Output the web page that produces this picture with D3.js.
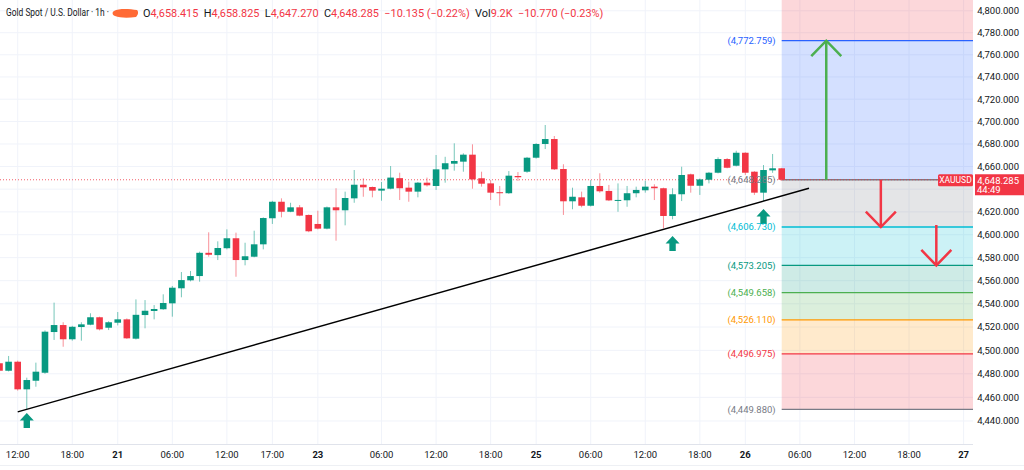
<!DOCTYPE html>
<html><head><meta charset="utf-8">
<script src="https://cdn.jsdelivr.net/npm/d3@7/dist/d3.min.js"></script>
<style>
html,body{margin:0;padding:0;background:#fff;}
svg{display:block;font-family:Roboto,"Noto Sans",sans-serif;}
</style></head>
<body>
<svg id="c" width="1024" height="470"></svg>
<script>
// ---------- data (1h candles, index 0 = 20th 12:00) ----------
const startIndex = -2;
const opens  = [4489.0,4482.6,4490.3,4466.8,4474.1,4480.9,4515.7,4521.7,4509.5,4520.0,4522.0,4528.4,4519.4,4523.7,4526.6,4510.0,4530.3,4533.8,4535.3,4540.4,4553.4,4560.3,4564.0,4584.2,4582.2,4588.2,4596.9,4577.9,4580.8,4591.6,4614.4,4628.9,4620.1,4624.0,4617.3,4609.4,4605.3,4624.0,4621.4,4631.9,4643.9,4641.9,4638.7,4640.4,4649.7,4641.3,4637.8,4645.7,4642.8,4657.5,4662.5,4664.3,4670.5,4649.6,4645.1,4637.3,4636.4,4651.6,4655.4,4667.8,4680.0,4684.4,4657.8,4629.3,4632.8,4625.4,4642.8,4638.4,4630.1,4630.2,4636.4,4639.0,4642.2,4640.8,4616.4,4635.5,4653.1,4643.0,4648.3,4654.5,4666.6,4660.7,4672.2,4655.4,4636.9,4656.6,4658.415];
const highs  = [4490.7,4495.2,4491.2,4476.7,4489.5,4517.1,4541.0,4524.1,4521.0,4524.1,4531.8,4528.9,4525.0,4532.9,4527.4,4543.8,4543.2,4538.9,4548.2,4555.4,4567.5,4568.4,4585.2,4602.1,4594.2,4604.7,4601.8,4593.0,4603.5,4615.2,4629.7,4631.9,4628.0,4626.0,4617.7,4621.0,4624.7,4640.8,4637.8,4656.9,4649.6,4642.3,4646.3,4660.4,4654.5,4646.6,4646.3,4650.2,4670.2,4668.6,4680.6,4671.7,4679.7,4655.4,4648.0,4642.8,4656.0,4655.1,4668.5,4680.7,4696.9,4687.1,4662.0,4641.3,4637.8,4648.0,4654.0,4643.7,4645.1,4642.8,4642.2,4647.4,4644.3,4641.3,4640.8,4659.8,4653.7,4649.4,4655.2,4668.1,4667.5,4674.0,4672.6,4655.9,4661.3,4671.1,4658.825];
const lows   = [4480.0,4482.0,4465.7,4449.9,4469.0,4480.0,4508.9,4503.1,4508.3,4508.3,4521.5,4517.1,4517.4,4521.4,4509.8,4509.3,4518.9,4526.6,4534.8,4528.9,4545.6,4559.4,4559.1,4580.8,4577.9,4587.2,4563.4,4573.3,4580.3,4587.2,4609.4,4615.2,4619.7,4616.2,4602.2,4604.7,4604.7,4594.8,4608.2,4628.0,4633.3,4632.8,4629.8,4639.8,4630.4,4628.9,4632.8,4642.3,4639.3,4645.7,4656.3,4655.4,4640.4,4642.2,4630.4,4625.4,4635.8,4647.2,4654.4,4667.0,4675.5,4656.9,4617.3,4622.3,4624.0,4624.7,4636.9,4629.5,4620.1,4624.5,4632.8,4636.9,4630.4,4605.6,4613.5,4629.5,4636.9,4634.9,4645.1,4653.9,4658.4,4660.1,4652.5,4634.9,4629.5,4654.4,4647.270];
const closes = [4482.6,4490.3,4466.8,4474.7,4481.8,4516.0,4521.7,4509.5,4520.2,4522.3,4528.4,4518.0,4524.1,4526.6,4510.3,4530.5,4534.0,4535.5,4540.7,4553.9,4560.5,4564.0,4584.2,4582.5,4588.4,4596.9,4577.9,4581.2,4591.6,4614.6,4628.9,4620.1,4624.0,4616.7,4603.0,4605.3,4624.0,4621.4,4632.2,4643.9,4641.6,4638.7,4640.4,4650.2,4640.8,4637.8,4645.7,4643.4,4657.5,4662.9,4664.9,4670.5,4648.6,4644.8,4636.9,4636.4,4651.9,4650.5,4667.8,4680.0,4684.4,4657.5,4629.3,4633.3,4625.4,4642.8,4638.1,4630.1,4630.5,4636.4,4639.3,4642.2,4640.8,4616.4,4635.5,4652.5,4643.0,4648.6,4654.5,4666.6,4658.9,4672.2,4654.5,4636.9,4656.9,4658.42,4648.285];

const xTickIndex = [0,6,11,17,23,28,33,40,46,52,57,63,69,75,80,86,92,98,104];
const xTickLabel = ["12:00","18:00","21","06:00","12:00","17:00","23","06:00","12:00","18:00","25","06:00","12:00","18:00","26","06:00","12:00","18:00","27"];
const xTickBold  = [false,false,true,false,false,false,true,false,false,false,true,false,false,false,true,false,false,false,true];
const yTicks = d3.range(4440, 4801, 20);

const fibPrices = [4772.759, 4648.285, 4606.730, 4573.205, 4549.658, 4526.110, 4496.975, 4449.880];
const fibColors = ["#2962ff","#787b86","#00bcd4","#089981","#4caf50","#ff9800","#f23645","#787b86"];
const fibStartIndex = 84;

const trendPts = [[1, 4449.9],[82, 4629.5]];   // touches two lows
const trendRange = [0, 87];
const markerArrows = [[1, 4446.7],[72, 4598.9],[82, 4622.5]]; // index, tip price
const bigArrows = [ // index, from price, to price, colour
  [88.9, 4648.285, 4772.759, "#4caf50"],
  [94.9, 4648.285, 4606.730, "#f23645"],
  [101.0, 4608.5, 4573.205, "#f23645"]
];
const headerExtra = "\u221210.770 (\u22120.23%)";
const headerVol = "9.2K";
const countdown = "44:49";

// ---------- setup ----------
const W = 1024, H = 470, plotR = 973, plotB = 444;
const svg = d3.select("#c");
const x = d3.scaleLinear().domain([0, 84]).range([17.7, 781.7]);
const y = d3.scaleLog().domain([4449.88, 4772.759]).range([409.3, 40.7]);
const UP = "#089981", DN = "#f23645", TXT = "#131722";
const f3 = d3.format(",.3f");

svg.append("rect").attr("width", W).attr("height", H).attr("fill", "#fff");
svg.append("defs").append("clipPath").attr("id","plot").append("rect")
   .attr("x",0).attr("y",0).attr("width",plotR).attr("height",plotB);
const plot = svg.append("g").attr("clip-path","url(#plot)");

// grid
plot.selectAll(".hg").data(yTicks).join("line")
  .attr("x1",0).attr("x2",plotR).attr("y1",d=>y(d)).attr("y2",d=>y(d))
  .attr("stroke","#f0f3fa").attr("stroke-width",1);
plot.selectAll(".vg").data(xTickIndex).join("line")
  .attr("x1",d=>x(d)).attr("x2",d=>x(d)).attr("y1",0).attr("y2",plotB)
  .attr("stroke","#f0f3fa").attr("stroke-width",1);

// fib zones
const fx0 = x(fibStartIndex), fx1 = plotR;
plot.append("rect").attr("x",fx0).attr("width",fx1-fx0)
  .attr("y",0).attr("height",y(fibPrices[0]))
  .attr("fill","#f23645").attr("fill-opacity",0.2);
for (let k = 0; k < fibPrices.length-1; k++) {
  plot.append("rect").attr("x",fx0).attr("width",fx1-fx0)
    .attr("y",y(fibPrices[k])).attr("height",y(fibPrices[k+1])-y(fibPrices[k]))
    .attr("fill",fibColors[k]).attr("fill-opacity",0.2);
}
fibPrices.forEach((p,k)=>{
  plot.append("line").attr("x1",fx0).attr("x2",fx1).attr("y1",y(p)).attr("y2",y(p))
    .attr("stroke",fibColors[k]).attr("stroke-width",1.3);
});

// close dotted line
const lastClose = closes[closes.length-1];
plot.append("line").attr("x1",0).attr("x2",plotR).attr("y1",y(lastClose)).attr("y2",y(lastClose))
  .attr("stroke",DN).attr("stroke-width",1).attr("stroke-dasharray","1,2").attr("opacity",0.8);

// candles
const candles = opens.map((o,i)=>({i:i+startIndex,o,h:highs[i],l:lows[i],c:closes[i]}));
const bw = 6.6;
const cg = plot.append("g");
cg.selectAll(".w").data(candles).join("line")
  .attr("x1",d=>x(d.i)).attr("x2",d=>x(d.i)).attr("y1",d=>y(d.h)).attr("y2",d=>y(d.l))
  .attr("stroke",d=>d.c>=d.o?UP:DN).attr("stroke-opacity",0.55).attr("stroke-width",1);
cg.selectAll(".b").data(candles).join("rect")
  .attr("x",d=>x(d.i)-bw/2).attr("width",bw)
  .attr("y",d=>y(Math.max(d.o,d.c)))
  .attr("height",d=>Math.max(1,Math.abs(y(d.o)-y(d.c))))
  .attr("fill",d=>d.c>=d.o?UP:DN);

// fib labels (drawn over candles)
fibPrices.forEach((p,k)=>{
  svg.append("text").attr("x",x(fibStartIndex)-6).attr("y",y(p)).attr("dy","0.35em")
    .attr("text-anchor","end").attr("font-size",9.5).attr("fill",fibColors[k])
    .text("(" + f3(p) + ")");
});

// trendline (straight in pixel space)
const ty = i => y(trendPts[0][1]) + (y(trendPts[1][1]) - y(trendPts[0][1])) * (i - trendPts[0][0]) / (trendPts[1][0] - trendPts[0][0]);
plot.append("line").attr("x1",x(trendRange[0])).attr("y1",ty(trendRange[0]))
  .attr("x2",x(trendRange[1])).attr("y2",ty(trendRange[1]))
  .attr("stroke","#000").attr("stroke-width",1.5);

// marker arrows
plot.selectAll(".ma").data(markerArrows).join("path")
  .attr("d",d=>{const cx=x(d[0]), t=y(d[1]);
    return `M${cx},${t} L${cx+7},${t+7.5} L${cx+3.2},${t+7.5} L${cx+3.2},${t+15} L${cx-3.2},${t+15} L${cx-3.2},${t+7.5} L${cx-7},${t+7.5} Z`;})
  .attr("fill",UP);

// big arrows
bigArrows.forEach(a=>{
  const cx = x(a[0]), y0 = y(a[1]), y1 = y(a[2]);
  const dir = y1 < y0 ? 1 : -1;
  plot.append("line").attr("x1",cx).attr("x2",cx).attr("y1",y0).attr("y2",y1)
    .attr("stroke",a[3]).attr("stroke-width",2.5);
  plot.append("path").attr("d",`M${cx-15},${y1+dir*15.5} L${cx},${y1} L${cx+15},${y1+dir*15.5}`)
    .attr("fill","none").attr("stroke",a[3]).attr("stroke-width",2.5);
});

// axes borders
svg.append("line").attr("x1",0).attr("x2",plotR).attr("y1",plotB+0.5).attr("y2",plotB+0.5).attr("stroke","#e0e3eb");
svg.append("line").attr("x1",0).attr("x2",W).attr("y1",465.5).attr("y2",465.5).attr("stroke","#eef0f4");

// price axis (labels hidden under the last-price tag are skipped)
const cy = y(lastClose);
svg.selectAll(".yl").data(yTicks.filter(d=>Math.abs(y(d)-cy) > 12)).join("text")
  .attr("x",1019).attr("y",d=>y(d)).attr("dy","0.35em").attr("text-anchor","end")
  .attr("font-size",9.5).attr("fill",TXT).text(d=>f3(d));

// time axis
svg.selectAll(".xl").data(xTickIndex).join("text")
  .attr("x",d=>x(d)).attr("y",458).attr("text-anchor","middle")
  .attr("font-size",9.5).attr("fill",TXT)
  .attr("font-weight",(d,i)=>xTickBold[i]?"bold":"normal")
  .text((d,i)=>xTickLabel[i]);

// price tags
svg.append("rect").attr("x",938).attr("y",cy-5.5).attr("width",35).attr("height",12).attr("rx",1.5).attr("fill",DN);
svg.append("text").attr("x",955.5).attr("y",cy+0.5).attr("dy","0.35em").attr("text-anchor","middle")
  .attr("font-size",8.5).attr("fill","#fff").text("XAUUSD");
svg.append("rect").attr("x",975).attr("y",cy-5.5).attr("width",49).attr("height",21).attr("fill",DN);
svg.append("text").attr("x",1019).attr("y",cy+0.5).attr("dy","0.35em").attr("text-anchor","end")
  .attr("font-size",9.5).attr("fill","#fff").text(f3(lastClose));
svg.append("text").attr("x",977).attr("y",cy+10).attr("dy","0.35em").attr("text-anchor","start")
  .attr("font-size",9.5).attr("fill","#fff").text(countdown);

// header
const n = closes.length;
const chg = closes[n-1]-closes[n-2];
const pct = chg/closes[n-2]*100;
const fm = v => (v<0?"\u2212":"+") + d3.format(".3f")(Math.abs(v));
const fp = v => (v<0?"\u2212":"+") + d3.format(".2f")(Math.abs(v)) + "%";
svg.append("text").attr("x",6).attr("y",16).attr("font-size",10.5).attr("fill",TXT)
  .attr("textLength",103).attr("lengthAdjust","spacingAndGlyphs")
  .text("Gold Spot / U.S. Dollar \u00b7 1h \u00b7");
svg.append("path").attr("d","M114,11 C119,8 130,9 137,10 C139,12 138,15 136,17 C128,18 120,18 115,16 C112,15 112,12 114,11 Z")
  .attr("fill","#ff5a1f").attr("opacity",0.9);
const ht = svg.append("text").attr("x",143).attr("y",16.5).attr("font-size",10.9).style("white-space","pre");
const parts = [
  ["O",TXT],[f3(opens[n-1]),DN],["  H",TXT],[f3(highs[n-1]),DN],["  L",TXT],[f3(lows[n-1]),DN],
  ["  C",TXT],[f3(closes[n-1]),DN],["  "+fm(chg)+" ("+fp(pct)+")",DN],["  Vol",TXT],[headerVol,DN],["  "+headerExtra,DN]
];
parts.forEach(p=>ht.append("tspan").attr("fill",p[1]).text(p[0]));
</script>
</body></html>
